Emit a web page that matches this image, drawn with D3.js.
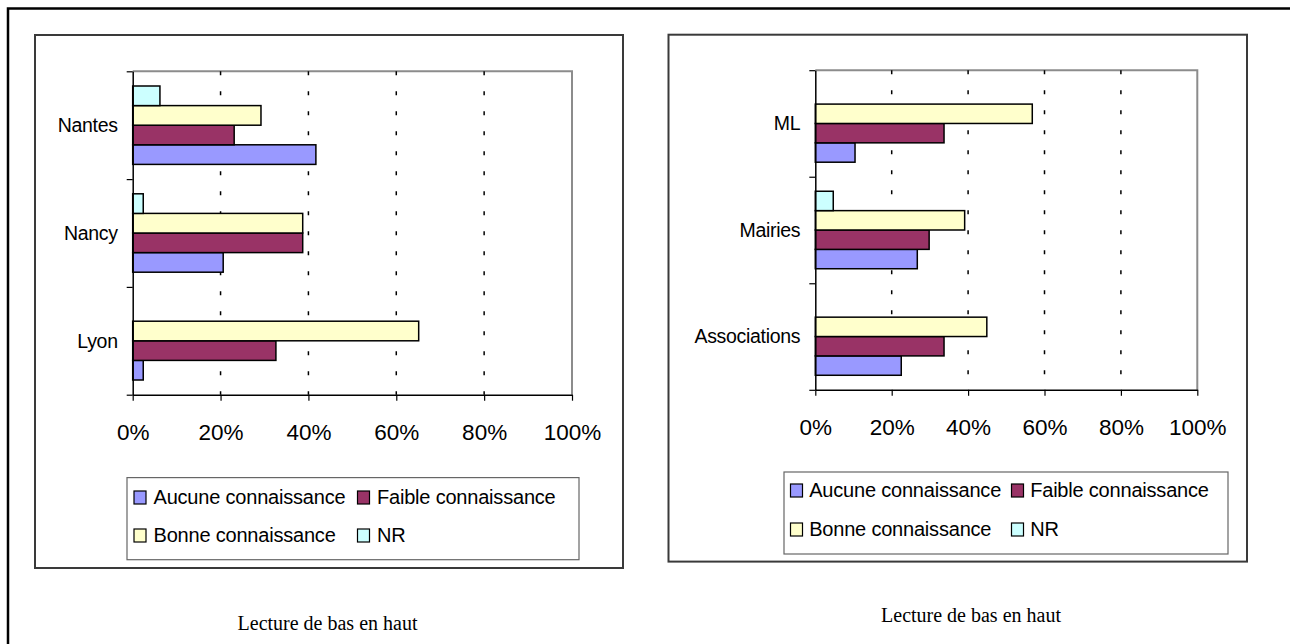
<!DOCTYPE html>
<html>
<head>
<meta charset="utf-8">
<script src="https://cdn.jsdelivr.net/npm/d3@7"></script>
<style>
  body { margin: 0; background: #fff; }
  svg text { font-family: "Liberation Sans", Arial, sans-serif; fill: #000; }
</style>
</head>
<body>
<div id="chart"></div>
<script>
// Series (same for both charts), bottom-to-top inside each group
const seriesNames = ["Aucune connaissance", "Faible connaissance", "Bonne connaissance", "NR"];
const seriesColors = ["#9999FF", "#993366", "#FFFFCC", "#CCFFFF"];
const xTicks = [0, 20, 40, 60, 80, 100];

// Left chart: cities (bottom to top)
const villes = ["Lyon", "Nancy", "Nantes"];
const villesAucune = [2.4, 20.6, 41.7];
const villesFaible = [32.6, 38.7, 23.1];
const villesBonne = [65.1, 38.7, 29.2];
const villesNR = [0, 2.4, 6.2];

// Right chart: structures (bottom to top)
const structures = ["Associations", "Mairies", "ML"];
const structAucune = [22.5, 26.7, 10.4];
const structFaible = [33.7, 29.8, 33.7];
const structBonne = [44.9, 39.1, 56.8];
const structNR = [0, 4.7, 0];

const caption = "Lecture de bas en haut";

const svg = d3.select("#chart").append("svg")
  .attr("width", 1290)
  .attr("height", 644);

// outer frame (top + left only visible)
svg.append("path")
  .attr("d", "M8,644 L8,8.5 L1290,8.5")
  .attr("fill", "none")
  .attr("stroke", "#000")
  .attr("stroke-width", 2.5);

function drawPanel(cfg) {
  const g = svg.append("g");

  // panel box
  g.append("rect")
    .attr("x", cfg.box[0]).attr("y", cfg.box[1])
    .attr("width", cfg.box[2] - cfg.box[0]).attr("height", cfg.box[3] - cfg.box[1])
    .attr("fill", "#fff").attr("stroke", "#3a3a3a").attr("stroke-width", 2);

  const p = cfg.plot; // left, top, right, bottom
  const x = d3.scaleLinear().domain([0, 100]).range([p.left, p.right]);
  const y = d3.scaleBand().domain(cfg.categories).range([p.bottom, p.top]);
  const ySub = d3.scaleBand().domain(d3.range(seriesNames.length))
    .range([y.bandwidth(), 0]).paddingInner(0).paddingOuter(0.75);

  // plot area border (gray, top & right)
  g.append("path")
    .attr("d", `M${p.left},${p.top} H${p.right} V${p.bottom}`)
    .attr("fill", "none").attr("stroke", "#8c8c8c").attr("stroke-width", 2);

  // dashed gridlines
  g.selectAll(".grid").data(xTicks.slice(1, -1)).join("line")
    .attr("x1", d => x(d)).attr("x2", d => x(d))
    .attr("y1", p.top).attr("y2", p.bottom)
    .attr("stroke", "#000").attr("stroke-width", 1.5)
    .attr("stroke-dasharray", "4,16");

  // bars
  const rows = [];
  cfg.categories.forEach((c, i) => {
    cfg.values.forEach((vals, s) => {
      if (vals[i] > 0) rows.push({ cat: c, s: s, v: vals[i] });
    });
  });
  g.selectAll(".bar").data(rows).join("rect")
    .attr("x", x(0))
    .attr("y", d => y(d.cat) + ySub(d.s))
    .attr("width", d => x(d.v) - x(0))
    .attr("height", ySub.bandwidth())
    .attr("fill", d => seriesColors[d.s])
    .attr("stroke", "#000").attr("stroke-width", 1.5);

  // x axis
  const xAxis = g.append("g")
    .attr("transform", `translate(0,${p.bottom})`)
    .call(d3.axisBottom(x).tickValues(xTicks).tickFormat(d => d + "%").tickSize(6).tickSizeOuter(0));
  xAxis.select(".domain").attr("stroke", "#000").attr("stroke-width", 1.5);
  xAxis.selectAll(".tick line").attr("stroke", "#000").attr("stroke-width", 1.2);
  xAxis.selectAll("text")
    .attr("y", 0).attr("dy", null)
    .attr("transform", `translate(0,${cfg.tickBaseline - p.bottom})`)
    .style("font-size", "22.5px").style("font-family", "Liberation Sans, Arial, sans-serif")
    .attr("fill", "#000");

  // y axis line and band-boundary ticks
  const yIdx = d3.scaleLinear().domain([0, cfg.categories.length]).range([p.bottom, p.top]);
  const yAxis = g.append("g")
    .attr("transform", `translate(${p.left},0)`)
    .call(d3.axisLeft(yIdx).tickValues(d3.range(cfg.categories.length + 1)).tickFormat("").tickSize(6).tickSizeOuter(0));
  yAxis.select(".domain").attr("stroke", "#000").attr("stroke-width", 1.5);
  yAxis.selectAll(".tick line").attr("stroke", "#000").attr("stroke-width", 1.2);

  // category labels
  g.selectAll(".cat").data(cfg.categories).join("text")
    .attr("x", p.left - 15)
    .attr("y", d => y(d) + y.bandwidth() / 2)
    .attr("dy", "0.35em")
    .attr("text-anchor", "end")
    .style("font-size", "19.5px")
    .style("letter-spacing", "-0.3px")
    .text(d => d);

  // legend
  const L = cfg.legend;
  g.append("rect")
    .attr("x", L.box[0]).attr("y", L.box[1])
    .attr("width", L.box[2] - L.box[0]).attr("height", L.box[3] - L.box[1])
    .attr("fill", "#fff").attr("stroke", "#666").attr("stroke-width", 1.2);
  const items = g.selectAll(".leg").data(seriesNames).join("g")
    .attr("transform", (d, i) => `translate(${L.cols[i % 2]},${L.rows[Math.floor(i / 2)]})`);
  items.append("rect")
    .attr("x", 0).attr("y", -6).attr("width", 12).attr("height", 13)
    .attr("fill", (d, i) => seriesColors[i])
    .attr("stroke", "#000").attr("stroke-width", 1.2);
  items.append("text")
    .attr("x", L.textOffset).attr("y", 0).attr("dy", "0.35em")
    .style("font-size", "20px")
    .style("letter-spacing", "-0.2px")
    .text(d => d);

  // caption
  g.append("text")
    .attr("x", cfg.caption[0]).attr("y", cfg.caption[1])
    .attr("text-anchor", "middle")
    .style("font-family", "Liberation Serif, 'Times New Roman', serif")
    .style("font-size", "20px")
    .text(caption);
}

drawPanel({
  box: [35, 35, 623, 568],
  plot: { left: 132.7, top: 71.3, right: 572, bottom: 394.7 },
  categories: villes,
  values: [villesAucune, villesFaible, villesBonne, villesNR],
  tickBaseline: 439.5,
  legend: { box: [127, 477.6, 579, 559.7], cols: [134, 357.5], rows: [497, 535], textOffset: 19.5 },
  caption: [327.5, 630]
});

drawPanel({
  box: [668.5, 34.7, 1247, 561.6],
  plot: { left: 815.3, top: 70.2, right: 1197.3, bottom: 389.8 },
  categories: structures,
  values: [structAucune, structFaible, structBonne, structNR],
  tickBaseline: 435,
  legend: { box: [784, 472, 1228, 554], cols: [790.5, 1011.5], rows: [490, 529], textOffset: 18.7 },
  caption: [971, 622]
});
</script>
</body>
</html>
